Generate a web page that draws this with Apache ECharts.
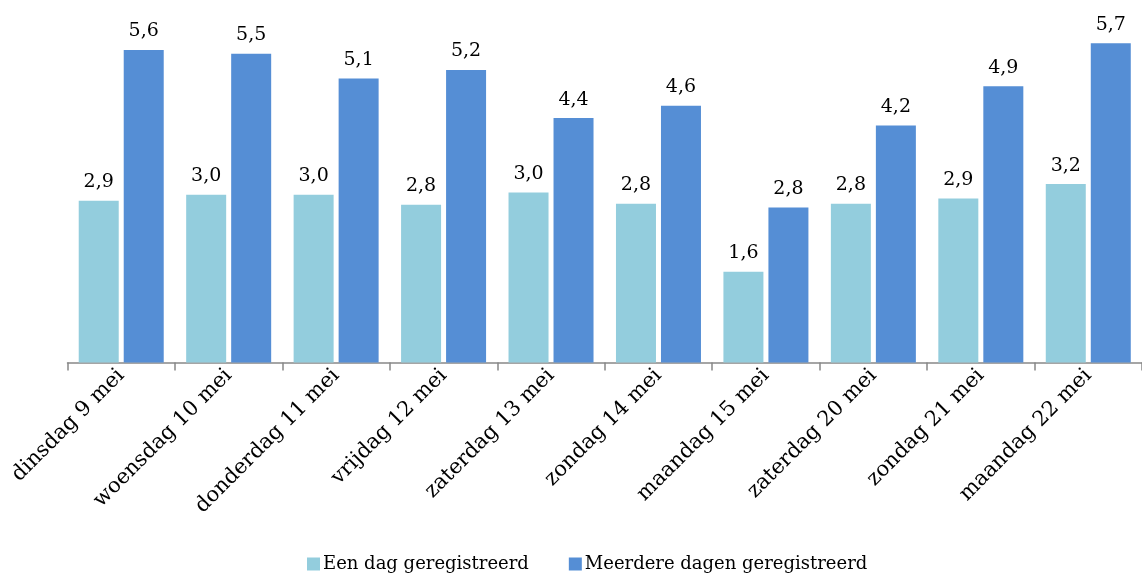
<!DOCTYPE html>
<html><head><meta charset="utf-8">
<script src="https://cdn.jsdelivr.net/npm/echarts@6/dist/echarts.min.js"></script>
<style>html,body{margin:0;padding:0;background:#fff}#c{width:1142px;height:577px}</style>
</head><body><div id="c"></div>
<script>
const categories = ['dinsdag 9 mei','woensdag 10 mei','donderdag 11 mei','vrijdag 12 mei','zaterdag 13 mei','zondag 14 mei','maandag 15 mei','zaterdag 20 mei','zondag 21 mei','maandag 22 mei'];
const eenDag = [2.89, 3.0, 3.0, 2.82, 3.04, 2.84, 1.62, 2.84, 2.93, 3.19];
const meerdereDagen = [5.59, 5.52, 5.08, 5.23, 4.37, 4.59, 2.77, 4.24, 4.94, 5.71];
const seriesNames = ['Een dag geregistreerd', 'Meerdere dagen geregistreerd'];

const font = '"DejaVu Serif", Georgia, serif';
const chart = echarts.init(document.getElementById('c'));
const lbl = {show:true, position:'top', distance:9, color:'#000', fontFamily:font, fontSize:19,
  formatter: p => p.value.toFixed(1).replace('.', ',')};
chart.setOption({
  animation:false,
  textStyle:{fontFamily:font},
  grid:{left:67.5, top:27, width:1078, height:335.4},
  legend:{left:302, bottom:-1, itemWidth:13, itemHeight:13, itemGap:40, icon:'rect',
    textStyle:{fontFamily:font, fontSize:18, color:'#000', padding:[0,0,0,-2]}, data:seriesNames},
  xAxis:{type:'category', data:categories,
    axisLine:{lineStyle:{color:'#888', width:1.5}},
    axisTick:{show:true, length:8, lineStyle:{color:'#888', width:1.5}},
    axisLabel:{rotate:45, interval:0, margin:10, color:'#000', fontFamily:font, fontSize:21}},
  yAxis:{type:'value', min:0, max:6, show:false, splitLine:{show:false}},
  series:[
    {name:seriesNames[0], type:'bar', data:eenDag, barWidth:40, barGap:'12.5%',
     itemStyle:{color:'#93CDDD'}, label:lbl},
    {name:seriesNames[1], type:'bar', data:meerdereDagen, barWidth:40,
     itemStyle:{color:'#558ED5'}, label:lbl}
  ]
});
</script></body></html>
